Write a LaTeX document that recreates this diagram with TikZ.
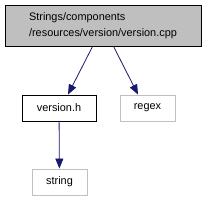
\documentclass[tikz,border=0pt]{standalone}
\usepackage{fontspec}
\setmainfont{Liberation Sans}
\usetikzlibrary{arrows.meta, positioning}
\definecolor{edgeblue}{HTML}{191970}
\definecolor{topfill}{HTML}{BFBFBF}
\definecolor{softgray}{HTML}{C0C0C0}

\begin{document}
\begin{tikzpicture}[x=1pt, y=-1pt, every node/.style={font=\fontsize{10.9}{15.5}\selectfont, inner sep=0pt}]
    \useasboundingbox[fill=white] (0,0) rectangle (207,201);
    \node[draw=black, fill=topfill, line width=0.9pt, minimum width=196pt, minimum height=41pt, align=left] (cpp) at (103,25.5) {Strings/components\\/resources/version/version.cpp};
    \node[draw=black, line width=0.9pt, minimum width=74pt, minimum height=26pt] (vh) at (59,108) {version.h};
    \node[draw=softgray, line width=0.9pt, minimum width=55pt, minimum height=26pt] (rx) at (147.5,108) {regex};
    \node[draw=softgray, line width=0.9pt, minimum width=55pt, minimum height=26pt] (str) at (59.5,182) {string};
    \draw[-{Triangle[length=10pt, width=8pt]}, line width=0.8pt, color=edgeblue] ([xshift=88pt]cpp.south west) -- ([xshift=9pt]vh.north);
    \draw[-{Triangle[length=10pt, width=8pt]}, line width=0.8pt, color=edgeblue] ([xshift=109pt]cpp.south west) -- ([xshift=-9.5pt]rx.north);
    \draw[-{Triangle[length=10pt, width=8pt]}, line width=0.8pt, color=edgeblue] (vh) -- (str);
  \end{tikzpicture}
\end{document}
